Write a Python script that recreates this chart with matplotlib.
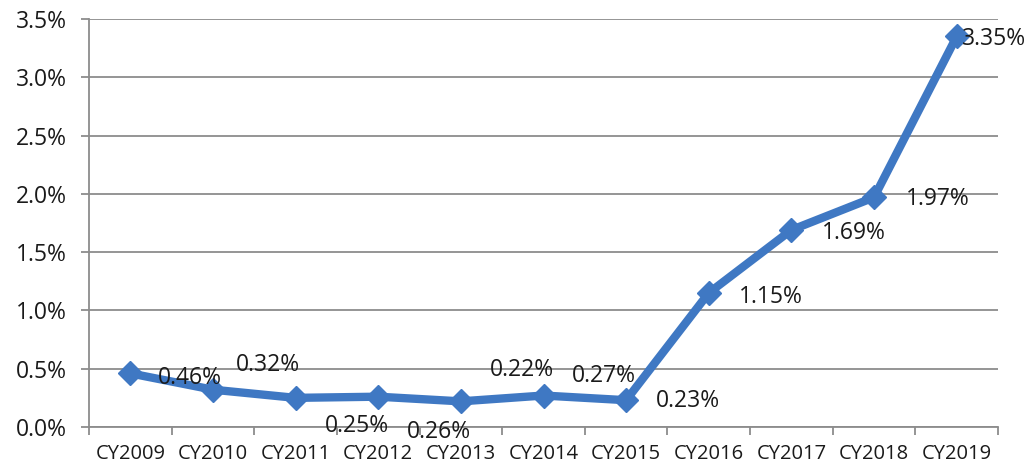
import matplotlib
matplotlib.use("Agg")
import matplotlib.pyplot as plt
from matplotlib.ticker import FuncFormatter, MultipleLocator, FixedLocator

categories = ["CY2009", "CY2010", "CY2011", "CY2012", "CY2013", "CY2014",
              "CY2015", "CY2016", "CY2017", "CY2018", "CY2019"]
values = [0.46, 0.32, 0.25, 0.26, 0.22, 0.27, 0.23, 1.15, 1.69, 1.97, 3.35]
labels = ["0.46%", "0.32%", "0.25%", "0.26%", "0.22%", "0.27%", "0.23%",
          "1.15%", "1.69%", "1.97%", "3.35%"]

# label offsets in pixels (dx, dy) -- styling only
offsets = [(60, -5), (55, 25), (61, -28), (61, -35), (61, 31), (60, 20),
           (62, -1), (62, -4), (62, -3), (64, -2), (37, -3)]

plt.rcParams['font.family'] = ['Open Sans', 'DejaVu Sans']
color = "#3f78c3"
grid_c = "#8c8c8c"

fig = plt.figure(figsize=(10.36, 4.71), dpi=100)
ax = fig.add_axes([89/1036, 1-427/471, (998-89)/1036, (427-19)/471])

x = list(range(len(categories)))
ax.plot(x, values, color=color, linewidth=6, marker="D", markersize=12,
        solid_joinstyle="round", zorder=3)

for xi, v, lab, (dx, dy) in zip(x, values, labels, offsets):
    ax.annotate(lab, (xi, v), xytext=(dx * 0.72, dy * 0.72), textcoords="offset points",
                ha="center", va="center", fontsize=16.5, color="#1a1a1a", zorder=4)

ax.set_xlim(-0.5, len(categories) - 0.5)
ax.set_ylim(0, 3.5)
ax.yaxis.set_major_locator(MultipleLocator(0.5))
ax.yaxis.set_major_formatter(FuncFormatter(lambda v, p: f"{v:.1f}%"))
ax.set_xticks(x)
ax.set_xticklabels(categories)
ax.xaxis.set_minor_locator(FixedLocator([i - 0.5 for i in range(len(categories) + 1)]))

ax.grid(axis="y", color=grid_c, linewidth=1.3, zorder=0)
ax.set_axisbelow(True)
for s in ["top", "right"]:
    ax.spines[s].set_visible(False)
for s in ["left", "bottom"]:
    ax.spines[s].set_color(grid_c)
    ax.spines[s].set_linewidth(1.3)

ax.tick_params(axis="x", which="major", length=0, pad=12, labelsize=14.5, colors="#1a1a1a")
ax.tick_params(axis="x", which="minor", length=6, width=1.3, color=grid_c)
ax.tick_params(axis="y", length=6, width=1.3, color=grid_c, pad=10, labelsize=16.5,
               labelcolor="#1a1a1a")

fig.savefig("out.png", dpi=100)
